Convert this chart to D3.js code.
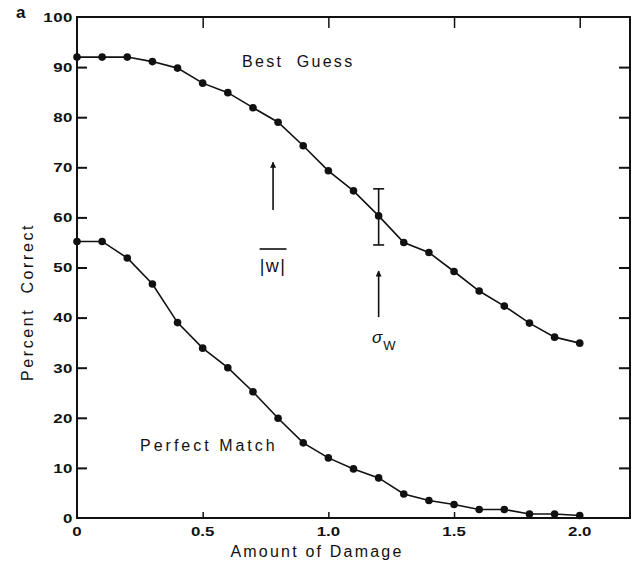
<!DOCTYPE html>
<html><head><meta charset="utf-8">
<script src="https://cdn.jsdelivr.net/npm/d3@7"></script>
<style>
html,body{margin:0;padding:0;background:#fff;}
svg{display:block;}
text{font-family:"Liberation Sans",Arial,sans-serif;fill:#111;}
</style></head>
<body>
<script>
const damage = [0,0.1,0.2,0.3,0.4,0.5,0.6,0.7,0.8,0.9,1.0,1.1,1.2,1.3,1.4,1.5,1.6,1.7,1.8,1.9,2.0];
const bestGuess = [92,92,92,91.1,89.8,86.8,84.9,81.9,79.0,74.3,69.3,65.3,60.3,55.0,53.0,49.2,45.3,42.3,38.9,36.1,34.9];
const perfectMatch = [55.2,55.2,51.9,46.7,39.0,33.9,30.0,25.2,19.9,15.0,12.0,9.8,8.0,4.8,3.5,2.7,1.7,1.7,0.8,0.8,0.5];
const yTicks = [0,10,20,30,40,50,60,70,80,90,100];
const xTicks = [0,0.5,1.0,1.5,2.0];
const xTickLabels = ["0","0.5","1.0","1.5","2.0"];
const errorBar = {x:1.2, lo:54.5, hi:65.7};
const arrowW = {x:0.78, from:61.5, to:71};
const arrowSigma = {x:1.2, from:40.1, to:49.3};

const W=636,H=565;
const svg=d3.select("body").append("svg").attr("width",W).attr("height",H);
const x=d3.scaleLinear().domain([0,2.2]).range([77,630]);
const y=d3.scaleLinear().domain([0,100]).range([518,17]);

// frame
svg.append("rect").attr("x",x(0)).attr("y",y(100)).attr("width",x(2.2)-x(0)).attr("height",y(0)-y(100))
  .attr("fill","none").attr("stroke","#111").attr("stroke-width",2);

// left axis
const axLeft=svg.append("g").attr("transform",`translate(${x(0)},0)`)
  .call(d3.axisRight(y).tickValues(yTicks.filter(d=>d>0&&d<100)).tickSize(10).tickFormat(""));
axLeft.select(".domain").remove();
axLeft.selectAll("line").attr("stroke","#111").attr("stroke-width",2);
svg.append("g").selectAll("text").data(yTicks).join("text")
  .attr("transform",d=>`translate(73,${y(d)+4.8}) scale(1.25,1)`).attr("text-anchor","end")
  .attr("font-size",13.5).attr("font-weight","bold").attr("letter-spacing",0.4).text(d=>d);

// right axis
const axRight=svg.append("g").attr("transform",`translate(${x(2.2)},0)`)
  .call(d3.axisLeft(y).tickValues(yTicks.filter(d=>d>0&&d<100)).tickSize(11).tickFormat(""));
axRight.select(".domain").remove();
axRight.selectAll("line").attr("stroke","#111").attr("stroke-width",2);

// top axis
const axTop=svg.append("g").attr("transform",`translate(0,${y(100)})`)
  .call(d3.axisBottom(x).tickValues(xTicks.filter(d=>d>0)).tickSize(11).tickFormat(""));
axTop.select(".domain").remove();
axTop.selectAll("line").attr("stroke","#111").attr("stroke-width",1.5);

// bottom axis
const axBot=svg.append("g").attr("transform",`translate(0,${y(0)})`)
  .call(d3.axisTop(x).tickValues(xTicks.filter(d=>d>0)).tickSize(6).tickFormat(""));
axBot.select(".domain").remove();
axBot.selectAll("line").attr("stroke","#111").attr("stroke-width",1.5);
svg.append("g").selectAll("text").data(xTicks).join("text")
  .attr("transform",d=>`translate(${x(d)},536) scale(1.25,1)`).attr("text-anchor","middle")
  .attr("font-size",13.5).attr("font-weight","bold").text((d,i)=>xTickLabels[i]);

// lines
const line=d3.line().x(d=>x(d[0])).y(d=>y(d[1]));
[bestGuess,perfectMatch].forEach(s=>{
  const pts=damage.map((d,i)=>[d,s[i]]);
  svg.append("path").datum(pts).attr("d",line).attr("fill","none").attr("stroke","#111").attr("stroke-width",1.6);
  svg.append("g").selectAll("circle").data(pts).join("circle")
    .attr("cx",d=>x(d[0])).attr("cy",d=>y(d[1])).attr("r",3.8).attr("fill","#111");
});

// error bar
const eb=svg.append("g").attr("stroke","#111").attr("stroke-width",1.6);
eb.append("line").attr("x1",x(errorBar.x)).attr("x2",x(errorBar.x)).attr("y1",y(errorBar.lo)).attr("y2",y(errorBar.hi));
[errorBar.lo,errorBar.hi].forEach(v=>eb.append("line").attr("x1",x(errorBar.x)-5.5).attr("x2",x(errorBar.x)+5.5).attr("y1",y(v)).attr("y2",y(v)));

// arrows
svg.append("defs").append("marker").attr("id","ah").attr("viewBox","0 0 10 10").attr("refX",9).attr("refY",5)
  .attr("markerWidth",10).attr("markerHeight",6).attr("markerUnits","userSpaceOnUse").attr("orient","auto")
  .append("path").attr("d","M0,0 L10,5 L0,10 Z").attr("fill","#111");
[arrowW,arrowSigma].forEach(a=>{
  svg.append("line").attr("x1",x(a.x)).attr("x2",x(a.x)).attr("y1",y(a.from)).attr("y2",y(a.to))
    .attr("stroke","#111").attr("stroke-width",1.6).attr("marker-end","url(#ah)");
});

// |w| label with overline
svg.append("text").attr("x",x(arrowW.x)).attr("y",272).attr("text-anchor","middle")
  .attr("font-size",18).attr("letter-spacing",1.5).text("|w|");
svg.append("line").attr("x1",x(arrowW.x)-13.5).attr("x2",x(arrowW.x)+13.5).attr("y1",249).attr("y2",249)
  .attr("stroke","#111").attr("stroke-width",1.6);

// sigma_w label
const sg=svg.append("text").attr("x",372).attr("y",343).attr("font-size",17).attr("font-style","italic");
sg.append("tspan").text("σ");
sg.append("tspan").attr("dx",1).attr("dy",7).attr("font-size",13).attr("font-style","normal").text("W");

// series labels
svg.append("text").attr("x",242).attr("y",67).attr("font-size",16).attr("letter-spacing",2.3).attr("xml:space","preserve").text("Best  Guess");
svg.append("text").attr("x",140).attr("y",451).attr("font-size",16).attr("letter-spacing",3.0).attr("xml:space","preserve").text("Perfect Match");

// axis titles
svg.append("text").attr("x",317).attr("y",557).attr("text-anchor","middle").attr("font-size",16).attr("letter-spacing",2.2).attr("xml:space","preserve").text("Amount of Damage");
svg.append("text").attr("transform","translate(33,302) rotate(-90)").attr("text-anchor","middle").attr("font-size",16).attr("letter-spacing",2.6).attr("xml:space","preserve").text("Percent  Correct");

// panel letter
svg.append("text").attr("x",16).attr("y",18).attr("font-size",17).attr("font-weight","bold").text("a");
</script>
</body></html>
